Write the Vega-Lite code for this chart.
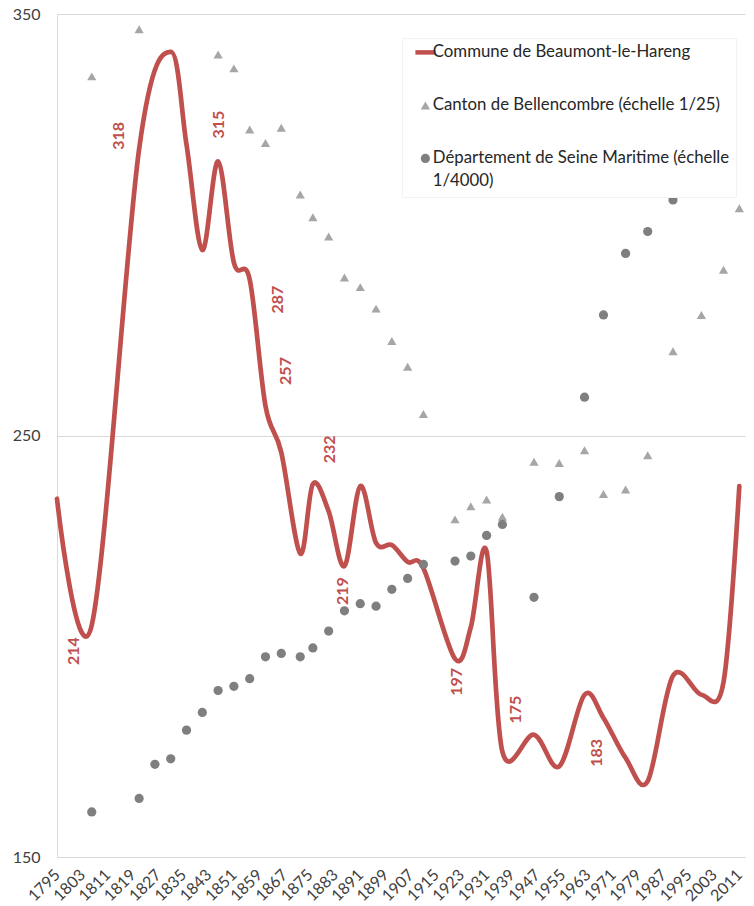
{
  "$schema": "https://vega.github.io/schema/vega-lite/v6.json",
  "width": 688,
  "height": 843,
  "autosize": {"type": "none"},
  "padding": {"left": 57, "top": 14, "right": 9, "bottom": 49},
  "background": "white",
  "config": {
    "font": "Lato",
    "view": {"stroke": null},
    "axis": {"labelFont": "Lato", "labelFontSize": 16, "labelColor": "#404040", "title": null, "ticks": false, "domainColor": "#d9d9d9", "gridColor": "#d9d9d9"}
  },
  "data": {
    "values": [
      {"year": 1795, "series": "Commune de Beaumont-le-Hareng", "value": 235},
      {"year": 1806, "series": "Commune de Beaumont-le-Hareng", "value": 205, "label": "214"},
      {"year": 1821, "series": "Commune de Beaumont-le-Hareng", "value": 318, "label": "318"},
      {"year": 1831, "series": "Commune de Beaumont-le-Hareng", "value": 341},
      {"year": 1836, "series": "Commune de Beaumont-le-Hareng", "value": 319},
      {"year": 1841, "series": "Commune de Beaumont-le-Hareng", "value": 294},
      {"year": 1846, "series": "Commune de Beaumont-le-Hareng", "value": 315, "label": "315"},
      {"year": 1851, "series": "Commune de Beaumont-le-Hareng", "value": 291},
      {"year": 1856, "series": "Commune de Beaumont-le-Hareng", "value": 287, "label": "287"},
      {"year": 1861, "series": "Commune de Beaumont-le-Hareng", "value": 257, "label": "257"},
      {"year": 1866, "series": "Commune de Beaumont-le-Hareng", "value": 246},
      {"year": 1872, "series": "Commune de Beaumont-le-Hareng", "value": 222},
      {"year": 1876, "series": "Commune de Beaumont-le-Hareng", "value": 238.5},
      {"year": 1881, "series": "Commune de Beaumont-le-Hareng", "value": 232, "label": "232"},
      {"year": 1886, "series": "Commune de Beaumont-le-Hareng", "value": 219, "label": "219"},
      {"year": 1891, "series": "Commune de Beaumont-le-Hareng", "value": 238},
      {"year": 1896, "series": "Commune de Beaumont-le-Hareng", "value": 224.5},
      {"year": 1901, "series": "Commune de Beaumont-le-Hareng", "value": 224},
      {"year": 1906, "series": "Commune de Beaumont-le-Hareng", "value": 220},
      {"year": 1911, "series": "Commune de Beaumont-le-Hareng", "value": 218.5},
      {"year": 1921, "series": "Commune de Beaumont-le-Hareng", "value": 197, "label": "197"},
      {"year": 1926, "series": "Commune de Beaumont-le-Hareng", "value": 204.5},
      {"year": 1931, "series": "Commune de Beaumont-le-Hareng", "value": 222.5},
      {"year": 1936, "series": "Commune de Beaumont-le-Hareng", "value": 175, "label": "175"},
      {"year": 1946, "series": "Commune de Beaumont-le-Hareng", "value": 179},
      {"year": 1954, "series": "Commune de Beaumont-le-Hareng", "value": 171.5},
      {"year": 1962, "series": "Commune de Beaumont-le-Hareng", "value": 188.5},
      {"year": 1968, "series": "Commune de Beaumont-le-Hareng", "value": 183, "label": "183"},
      {"year": 1975, "series": "Commune de Beaumont-le-Hareng", "value": 173.5},
      {"year": 1982, "series": "Commune de Beaumont-le-Hareng", "value": 168},
      {"year": 1990, "series": "Commune de Beaumont-le-Hareng", "value": 193},
      {"year": 1999, "series": "Commune de Beaumont-le-Hareng", "value": 188.5},
      {"year": 2006, "series": "Commune de Beaumont-le-Hareng", "value": 191.5},
      {"year": 2011, "series": "Commune de Beaumont-le-Hareng", "value": 238},

      {"year": 1806, "series": "Canton de Bellencombre (échelle 1/25)", "value": 335.2},
      {"year": 1821, "series": "Canton de Bellencombre (échelle 1/25)", "value": 346.4},
      {"year": 1846, "series": "Canton de Bellencombre (échelle 1/25)", "value": 340.4},
      {"year": 1851, "series": "Canton de Bellencombre (échelle 1/25)", "value": 337.1},
      {"year": 1856, "series": "Canton de Bellencombre (échelle 1/25)", "value": 322.6},
      {"year": 1861, "series": "Canton de Bellencombre (échelle 1/25)", "value": 319.4},
      {"year": 1866, "series": "Canton de Bellencombre (échelle 1/25)", "value": 323.0},
      {"year": 1872, "series": "Canton de Bellencombre (échelle 1/25)", "value": 307.2},
      {"year": 1876, "series": "Canton de Bellencombre (échelle 1/25)", "value": 301.8},
      {"year": 1881, "series": "Canton de Bellencombre (échelle 1/25)", "value": 297.2},
      {"year": 1886, "series": "Canton de Bellencombre (échelle 1/25)", "value": 287.5},
      {"year": 1891, "series": "Canton de Bellencombre (échelle 1/25)", "value": 285.2},
      {"year": 1896, "series": "Canton de Bellencombre (échelle 1/25)", "value": 280.1},
      {"year": 1901, "series": "Canton de Bellencombre (échelle 1/25)", "value": 272.4},
      {"year": 1906, "series": "Canton de Bellencombre (échelle 1/25)", "value": 266.3},
      {"year": 1911, "series": "Canton de Bellencombre (échelle 1/25)", "value": 255.1},
      {"year": 1921, "series": "Canton de Bellencombre (échelle 1/25)", "value": 230.1},
      {"year": 1926, "series": "Canton de Bellencombre (échelle 1/25)", "value": 233.2},
      {"year": 1931, "series": "Canton de Bellencombre (échelle 1/25)", "value": 234.8},
      {"year": 1936, "series": "Canton de Bellencombre (échelle 1/25)", "value": 230.7},
      {"year": 1946, "series": "Canton de Bellencombre (échelle 1/25)", "value": 243.8},
      {"year": 1954, "series": "Canton de Bellencombre (échelle 1/25)", "value": 243.5},
      {"year": 1962, "series": "Canton de Bellencombre (échelle 1/25)", "value": 246.5},
      {"year": 1968, "series": "Canton de Bellencombre (échelle 1/25)", "value": 236.1},
      {"year": 1975, "series": "Canton de Bellencombre (échelle 1/25)", "value": 237.2},
      {"year": 1982, "series": "Canton de Bellencombre (échelle 1/25)", "value": 245.3},
      {"year": 1990, "series": "Canton de Bellencombre (échelle 1/25)", "value": 270.0},
      {"year": 1999, "series": "Canton de Bellencombre (échelle 1/25)", "value": 278.6},
      {"year": 2006, "series": "Canton de Bellencombre (échelle 1/25)", "value": 289.3},
      {"year": 2011, "series": "Canton de Bellencombre (échelle 1/25)", "value": 303.9},

      {"year": 1806, "series": "Département de Seine Maritime (échelle 1/4000)", "value": 160.7},
      {"year": 1821, "series": "Département de Seine Maritime (échelle 1/4000)", "value": 163.9},
      {"year": 1826, "series": "Département de Seine Maritime (échelle 1/4000)", "value": 172.0},
      {"year": 1831, "series": "Département de Seine Maritime (échelle 1/4000)", "value": 173.3},
      {"year": 1836, "series": "Département de Seine Maritime (échelle 1/4000)", "value": 180.1},
      {"year": 1841, "series": "Département de Seine Maritime (échelle 1/4000)", "value": 184.3},
      {"year": 1846, "series": "Département de Seine Maritime (échelle 1/4000)", "value": 189.5},
      {"year": 1851, "series": "Département de Seine Maritime (échelle 1/4000)", "value": 190.5},
      {"year": 1856, "series": "Département de Seine Maritime (échelle 1/4000)", "value": 192.3},
      {"year": 1861, "series": "Département de Seine Maritime (échelle 1/4000)", "value": 197.5},
      {"year": 1866, "series": "Département de Seine Maritime (échelle 1/4000)", "value": 198.3},
      {"year": 1872, "series": "Département de Seine Maritime (échelle 1/4000)", "value": 197.5},
      {"year": 1876, "series": "Département de Seine Maritime (échelle 1/4000)", "value": 199.6},
      {"year": 1881, "series": "Département de Seine Maritime (échelle 1/4000)", "value": 203.6},
      {"year": 1886, "series": "Département de Seine Maritime (échelle 1/4000)", "value": 208.4},
      {"year": 1891, "series": "Département de Seine Maritime (échelle 1/4000)", "value": 210.1},
      {"year": 1896, "series": "Département de Seine Maritime (échelle 1/4000)", "value": 209.5},
      {"year": 1901, "series": "Département de Seine Maritime (échelle 1/4000)", "value": 213.5},
      {"year": 1906, "series": "Département de Seine Maritime (échelle 1/4000)", "value": 216.1},
      {"year": 1911, "series": "Département de Seine Maritime (échelle 1/4000)", "value": 219.4},
      {"year": 1921, "series": "Département de Seine Maritime (échelle 1/4000)", "value": 220.2},
      {"year": 1926, "series": "Département de Seine Maritime (échelle 1/4000)", "value": 221.4},
      {"year": 1931, "series": "Département de Seine Maritime (échelle 1/4000)", "value": 226.3},
      {"year": 1936, "series": "Département de Seine Maritime (échelle 1/4000)", "value": 228.9},
      {"year": 1946, "series": "Département de Seine Maritime (échelle 1/4000)", "value": 211.6},
      {"year": 1954, "series": "Département de Seine Maritime (échelle 1/4000)", "value": 235.5},
      {"year": 1962, "series": "Département de Seine Maritime (échelle 1/4000)", "value": 259.1},
      {"year": 1968, "series": "Département de Seine Maritime (échelle 1/4000)", "value": 278.6},
      {"year": 1975, "series": "Département de Seine Maritime (échelle 1/4000)", "value": 293.2},
      {"year": 1982, "series": "Département de Seine Maritime (échelle 1/4000)", "value": 298.4},
      {"year": 1990, "series": "Département de Seine Maritime (échelle 1/4000)", "value": 305.9}
    ]
  },
  "encoding": {
    "x": {
      "field": "year", "type": "quantitative",
      "scale": {"domain": [1795, 2012.8], "nice": false, "zero": false},
      "axis": {
        "values": [1795, 1803, 1811, 1819, 1827, 1835, 1843, 1851, 1859, 1867, 1875, 1883, 1891, 1899, 1907, 1915, 1923, 1931, 1939, 1947, 1955, 1963, 1971, 1979, 1987, 1995, 2003, 2011],
        "format": "d", "labelAngle": -45, "labelAlign": "right", "labelBaseline": "middle",
        "labelPadding": 15, "labelOverlap": false, "labelFlush": false, "grid": false, "domain": true
      }
    },
    "y": {
      "field": "value", "type": "quantitative",
      "scale": {"domain": [150, 350], "nice": false, "zero": false},
      "axis": {"values": [150, 250, 350], "grid": true, "domain": true, "labelPadding": 17}
    }
  },
  "layer": [
    {
      "transform": [{"filter": "datum.series == 'Commune de Beaumont-le-Hareng'"}],
      "mark": {"type": "line", "interpolate": "cardinal", "strokeWidth": 4.7, "color": "#C0504D", "strokeCap": "round", "strokeJoin": "round"}
    },
    {
      "transform": [{"filter": "datum.series != 'Commune de Beaumont-le-Hareng'"}],
      "mark": {"type": "point", "filled": true, "size": 85, "opacity": 1, "strokeWidth": 0},
      "encoding": {
        "color": {
          "field": "series", "type": "nominal",
          "scale": {
            "domain": ["Commune de Beaumont-le-Hareng", "Canton de Bellencombre (échelle 1/25)", "Département de Seine Maritime (échelle 1/4000)"],
            "range": ["#C0504D", "#A6A6A6", "#7F7F7F"]
          },
          "legend": {
            "title": null, "orient": "none", "legendX": 345, "legendY": 24,
            "padding": 6, "strokeColor": "#f2f2f2", "fillColor": "white",
            "symbolSize": 85, "symbolOffset": 9, "symbolStrokeWidth": 0, "symbolOpacity": 1,
            "labelFont": "Lato", "labelFontSize": 16.8, "labelColor": "#262626", "labelOffset": -1, "labelLimit": 400,
            "rowPadding": 35, "labelBaseline": "middle",
            "labelExpr": "datum.label == 'Département de Seine Maritime (échelle 1/4000)' ? ['Département de Seine Maritime (échelle', '1/4000)'] : datum.label",
            "encode": {"labels": {"update": {"lineHeight": {"value": 23}}}}
          }
        },
        "shape": {
          "field": "series", "type": "nominal",
          "scale": {
            "domain": ["Commune de Beaumont-le-Hareng", "Canton de Bellencombre (échelle 1/25)", "Département de Seine Maritime (échelle 1/4000)"],
            "range": ["M-2.17,-0.49H2.17V0.49H-2.17Z", "triangle-up", "circle"]
          }
        }
      }
    },
    {
      "transform": [{"filter": "isValid(datum.label)"}],
      "mark": {
        "type": "text", "angle": 270, "align": "center", "baseline": "middle",
        "font": "Lato", "fontWeight": "bold", "fontSize": 16, "color": "#C0504D",
        "dx": {"expr": "datum.year==1806?-26:datum.year==1821?13:datum.year==1846?37:datum.year==1856?-20:datum.year==1861?35:datum.year==1881?62:datum.year==1886?-25:datum.year==1921?-23:datum.year==1936?42:datum.year==1968?-35:0"},
        "dy": {"expr": "datum.year==1806?-18:datum.year==1821?-20:datum.year==1846?1:datum.year==1856?28:datum.year==1861?21:datum.year==1881?1:datum.year==1886?-1:datum.year==1921?2:datum.year==1936?14:datum.year==1968?-6:0"}
      },
      "encoding": {"text": {"field": "label"}}
    }
  ]
}
